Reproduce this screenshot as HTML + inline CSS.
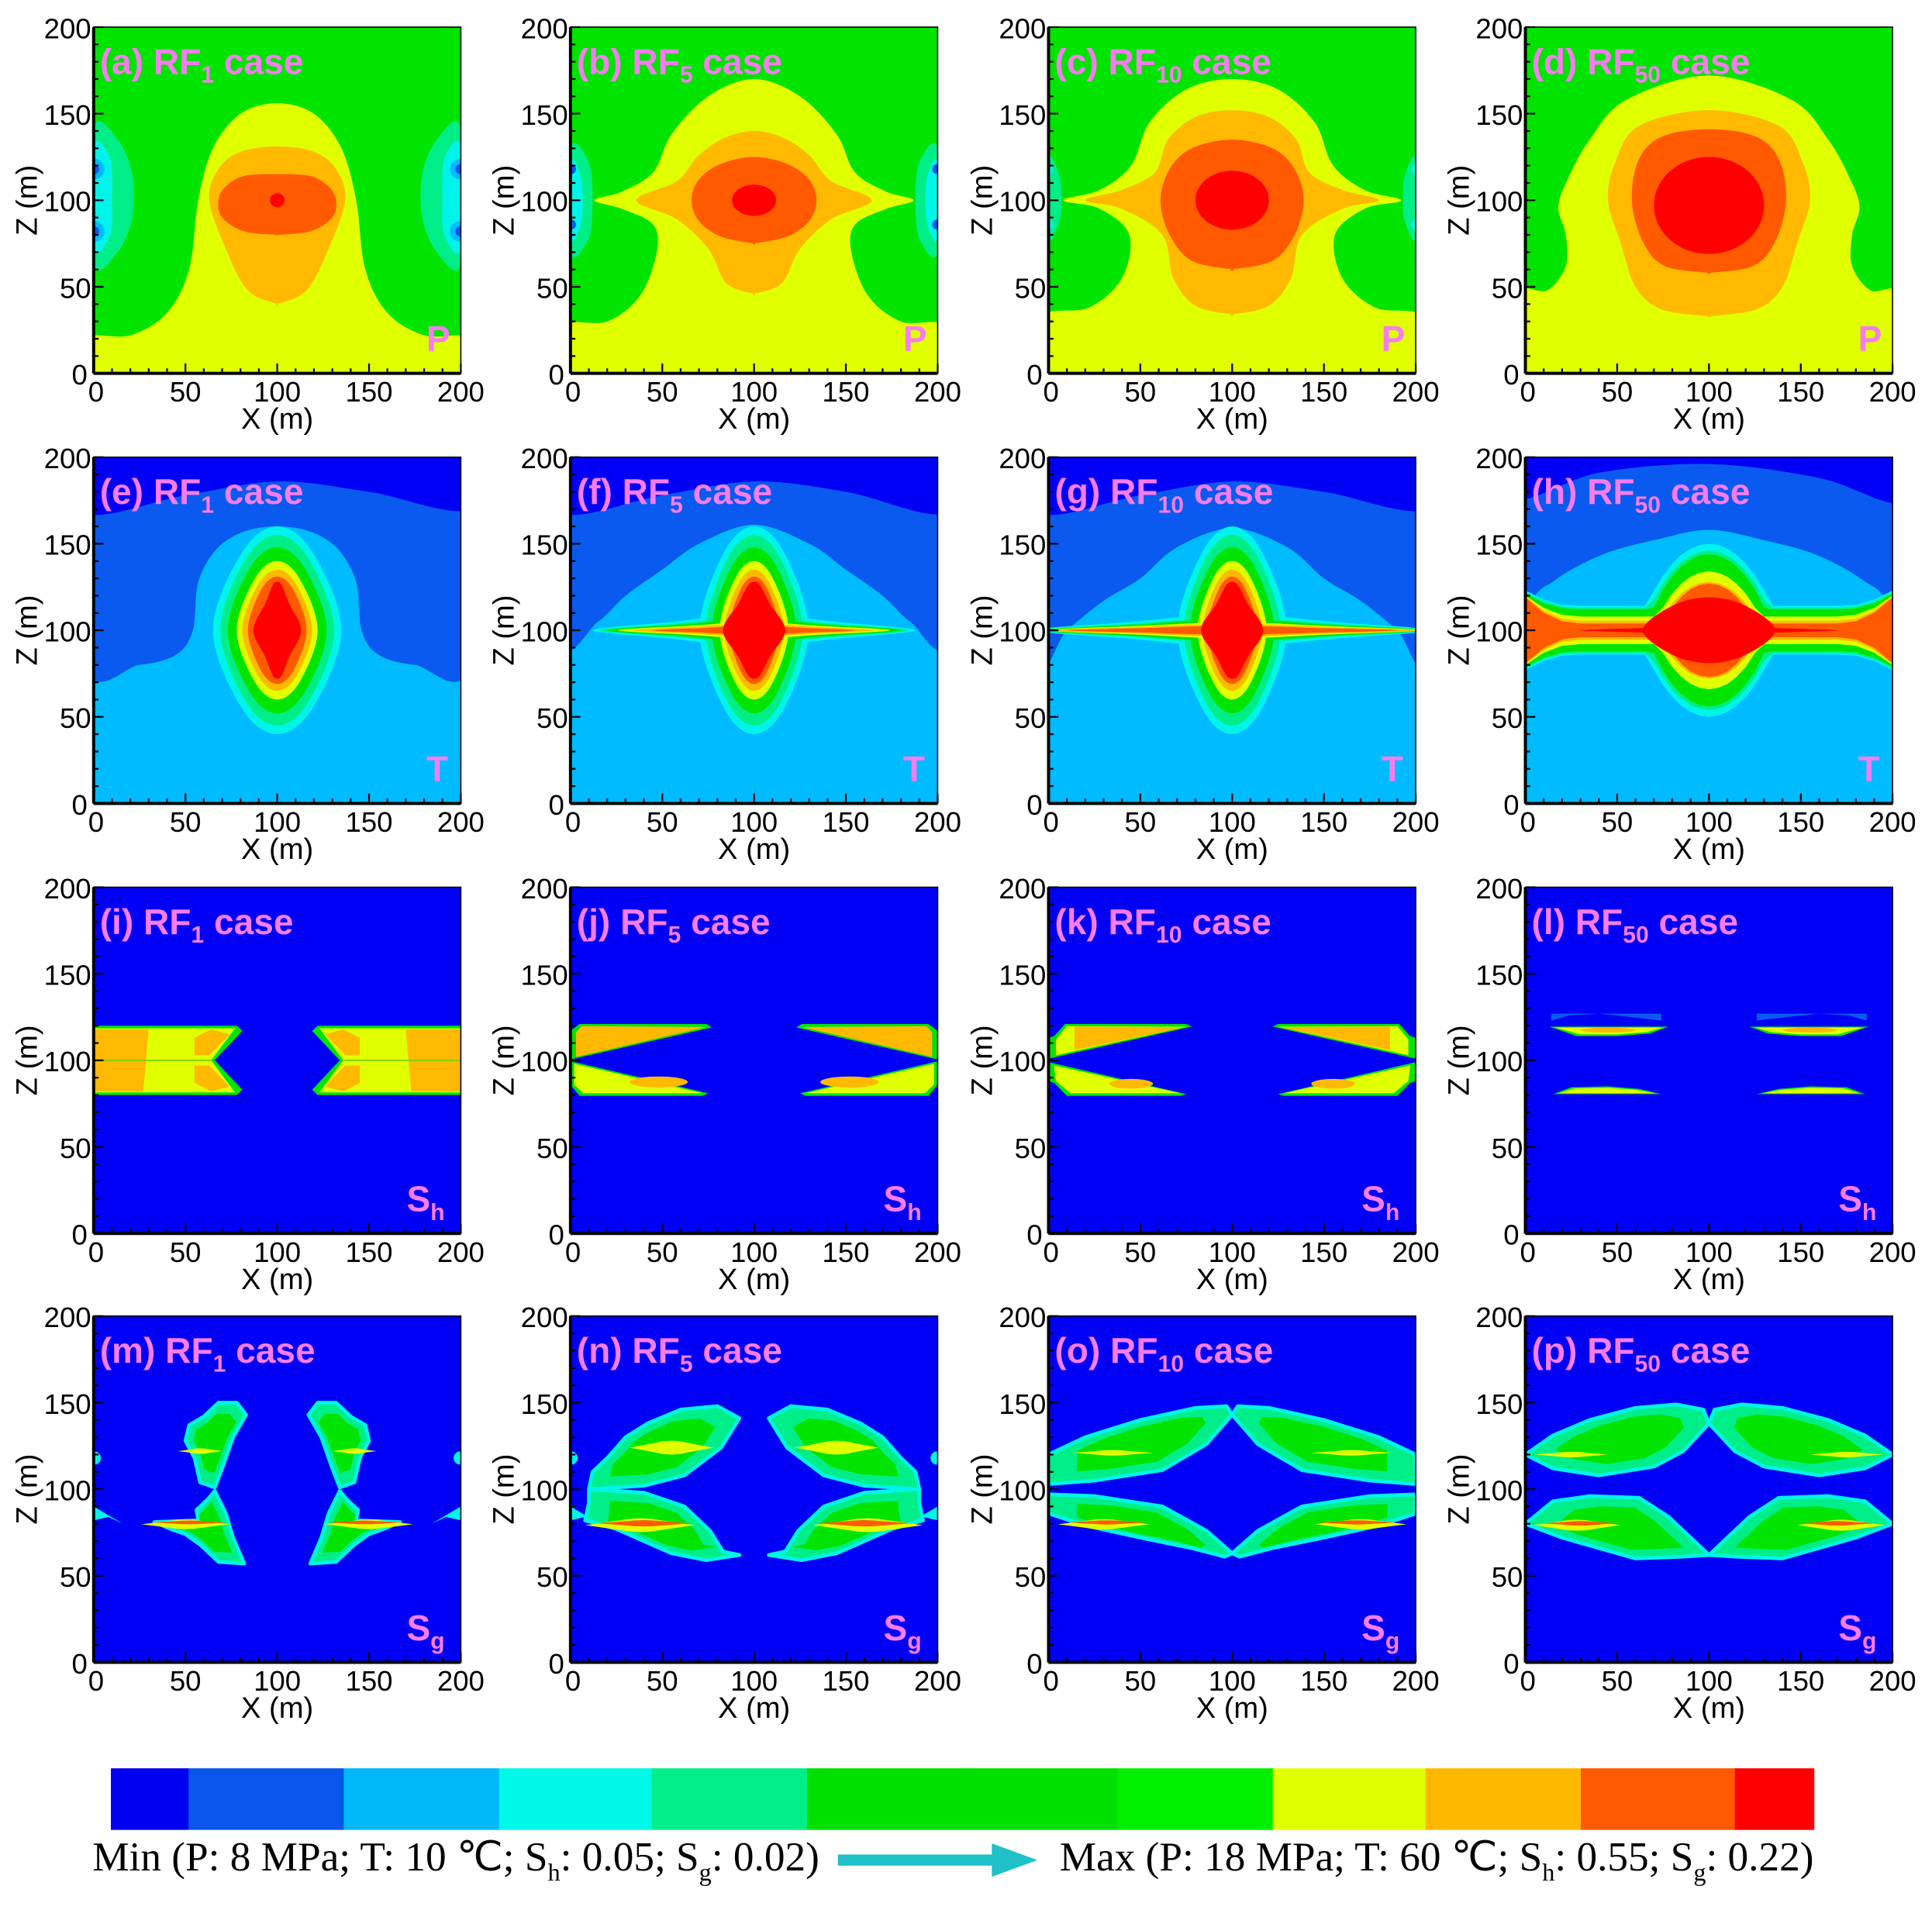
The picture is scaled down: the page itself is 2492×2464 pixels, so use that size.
<!DOCTYPE html>
<html><head><meta charset="utf-8">
<style>
html,body{margin:0;padding:0;background:#fff;}
svg{display:block;}
text{font-family:"Liberation Sans",Arial,sans-serif;}
.serif{font-family:"Liberation Serif","Times New Roman",serif;}
</style></head>
<body>
<svg id="fig" xmlns="http://www.w3.org/2000/svg" width="2492" height="2464" viewBox="0 0 1568 1550" preserveAspectRatio="none">
<rect x="0" y="0" width="1568" height="1550" fill="#ffffff"/>
</svg>
<script>
// ---- data arrays ----
const panelLetters = ['a','b','c','d','e','f','g','h','i','j','k','l','m','n','o','p'];
const rfCases = ['1','5','10','50'];
const variables = ['P','T','S_h','S_g'];
const xTicks = [0,50,100,150,200];
const zTicks = [0,50,100,150,200];
const xTickLabels = ['0','50','100','150','200'];
const zTickLabels = ['0','50','100','150','200'];
const colorbarColors = ['#0000f0','#0a55ec','#00b8fa','#00f8e8','#00ee8a','#00e000','#00e000','#00f000','#e0ff00','#ffb800','#ff5a00','#ff0000'];

const B0='#0000f5',B1='#0a5af0',B2='#00bbff',C3='#00f4ea',C4='#00ee88',G='#00e400',Y='#e0ff00',O='#ffb900',DO='#ff5a00',R='#ff0000';

const colL=[76,463,851,1238], rowT=[22,371,720,1068], W=298, H=281;
const svg=document.getElementById('fig');
const NS='http://www.w3.org/2000/svg';
function mk(tag,attrs,parent){const e=document.createElementNS(NS,tag);for(const k in attrs)e.setAttribute(k,attrs[k]);(parent||svg).appendChild(e);return e;}

function mir(half){return half.concat(half.slice(0,-1).reverse().map(p=>[200-p[0],p[1]]));}
function flipX(pts){return pts.map(p=>[200-p[0],p[1]]);}
function ell(cx,cz,rx,rz,n){n=n||36;const a=[];for(let i=0;i<n;i++){const t=i/n*2*Math.PI;a.push([cx+rx*Math.cos(t),cz+rz*Math.sin(t)]);}return a;}
function lens(cx,cz,hw,hh){return [[cx-hw,cz],[cx-hw*0.55,cz+hh*0.75],[cx,cz+hh],[cx+hw*0.55,cz+hh*0.75],[cx+hw,cz],[cx+hw*0.55,cz-hh*0.75],[cx,cz-hh],[cx-hw*0.55,cz-hh*0.75]];}
function sharpLens(cx,cz,hw,hh){return [[cx-hw,cz],[cx-hw*0.5,cz+hh*0.55],[cx-hw*0.2,cz+hh*0.92],[cx,cz+hh],[cx+hw*0.2,cz+hh*0.92],[cx+hw*0.5,cz+hh*0.55],[cx+hw,cz],[cx+hw*0.5,cz-hh*0.55],[cx+hw*0.2,cz-hh*0.92],[cx,cz-hh],[cx-hw*0.2,cz-hh*0.92],[cx-hw*0.5,cz-hh*0.55]];}
function shrink(pts,f){let cx=0,cz=0;pts.forEach(p=>{cx+=p[0];cz+=p[1];});cx/=pts.length;cz/=pts.length;return pts.map(p=>[cx+(p[0]-cx)*f,cz+(p[1]-cz)*f]);}

function panelDraw(pi){
  const col=pi%4,row=Math.floor(pi/4);
  const L=colL[col],T=rowT[row];
  const X=x=>L+x*W/200, Z=z=>T+H-z*H/200;
  const g=mk('g',{'clip-path':'url(#clip'+pi+')'});
  
  
  const defs=mk('defs',{});
  const cp=mk('clipPath',{id:'clip'+pi},defs);mk('rect',{x:L,y:T,width:W,height:H},cp);
  function smoothPath(pts){const P=pts.map(p=>[X(p[0]),Z(p[1])]);const n=P.length;let d='M'+P[0][0].toFixed(1)+','+P[0][1].toFixed(1);
    for(let i=0;i<n;i++){const p0=P[(i-1+n)%n],p1=P[i],p2=P[(i+1)%n],p3=P[(i+2)%n];
      const c1=[p1[0]+(p2[0]-p0[0])/6,p1[1]+(p2[1]-p0[1])/6],c2=[p2[0]-(p3[0]-p1[0])/6,p2[1]-(p3[1]-p1[1])/6];
      d+='C'+c1[0].toFixed(1)+','+c1[1].toFixed(1)+' '+c2[0].toFixed(1)+','+c2[1].toFixed(1)+' '+p2[0].toFixed(1)+','+p2[1].toFixed(1);}
    return d+'Z';}
  function sm(pts,fill,name){const e=mk('path',{d:smoothPath(pts),fill:fill},g);return e;}
  function pg(pts,fill,name,stroke,sw){const e=mk('polygon',{points:pts.map(p=>X(p[0]).toFixed(1)+','+Z(p[1]).toFixed(1)).join(' '),fill:fill},g);
    if(stroke){e.setAttribute('stroke',stroke);e.setAttribute('stroke-width',sw||2);e.setAttribute('stroke-linejoin','round');}
    return e;}
  function both(pts,fill,name,stroke,sw){pg(pts,fill,name,stroke,sw);pg(flipX(pts),fill,name,stroke,sw);}
  function bg(c){const e=mk('rect',{x:L,y:T,width:W,height:H,fill:c},g);}

  if(row===0){
    bg(G);
    if(col===0){
      [[0],[200]].forEach(([ex])=>{const s=ex?-1:1;
        sm([[ex,64],[ex+s*13,70],[ex+s*21,90],[ex+s*21,115],[ex+s*13,135],[ex,141]],C4,'side-lobe');
        sm([[ex,72],[ex+s*9,80],[ex+s*10,100],[ex+s*9,124],[ex,131]],C3,'side-lobe');
        sm(ell(ex,118,6,6,16),B2,'side-spot');sm(ell(ex,82,6,6,16),B2,'side-spot');
        sm(ell(ex,118,3,3,12),B1,'side-spot');sm(ell(ex,82,3,3,12),B1,'side-spot');});
      sm(mir([[-5,-5],[-5,20],[20,22],[40,35],[52,60],[57,100],[65,130],[80,150],[100,156]]),Y,'yellow-zone');
      sm(mir([[100,40],[84,48],[72,72],[63,100],[68,118],[80,128],[100,131]]),O,'orange-zone');
      sm(mir([[100,80],[82,82],[70,90],[68,100],[72,108],[82,114],[100,115]]),DO,'dark-orange-zone');
      sm(ell(100,100,4,4,16),R,'red-core');
    } else if(col===1){
      [0,200].forEach(ex=>{const s=ex?-1:1;
        sm([[ex,70],[ex+s*10,78],[ex+s*12,100],[ex+s*10,122],[ex,130]],C4,'side-lobe');
        sm([[ex,78],[ex+s*6,88],[ex+s*6,112],[ex,122]],C3,'side-lobe');
        sm(ell(ex,118,3,3,12),B1,'side-spot');sm(ell(ex,86,3,3,12),B1,'side-spot');});
      sm(mir([[-5,-5],[-5,27],[20,30],[38,45],[47,70],[45,86],[28,95],[13,100],[28,105],[45,116],[55,138],[75,160],[100,170]]),Y,'yellow-zone');
      sm(mir([[100,46],[85,52],[75,72],[58,89],[36,100],[58,111],[70,126],[84,136],[100,140]]),O,'orange-zone');
      sm(mir([[100,75],[82,79],[70,88],[66,100],[70,112],[82,121],[100,125]]),DO,'dark-orange-zone');
      sm(ell(100,100,12,9,24),R,'red-core');
    } else if(col===2){
      [0,200].forEach(ex=>{const s=ex?-1:1;
        sm([[ex,78],[ex+s*6,88],[ex+s*7,100],[ex+s*6,114],[ex,124]],C4,'side-lobe');
        sm(ell(ex,118,2.5,3,12),C3,'side-spot');sm(ell(ex,86,2.5,3,12),C3,'side-spot');});
      sm(mir([[-5,-5],[-5,32],[22,38],[40,55],[44,80],[28,95],[8,100],[28,106],[45,120],[55,145],[75,164],[100,170]]),Y,'yellow-zone');
      sm(mir([[100,34],[80,39],[68,55],[62,80],[40,95],[20,100],[40,106],[58,116],[65,135],[80,148],[100,152]]),O,'orange-zone');
      sm(mir([[100,60],[78,65],[66,80],[61,100],[66,118],[78,130],[100,135]]),DO,'dark-orange-zone');
      sm(ell(100,100,20,17,28),R,'red-core');
    } else {
      sm(mir([[-5,-5],[-5,45],[12,48],[22,62],[22,80],[18,96],[23,112],[35,135],[55,158],[100,172]]),Y,'yellow-zone');
      sm(mir([[100,33],[74,37],[60,50],[52,75],[45,100],[49,122],[62,143],[100,152]]),O,'orange-zone');
      sm(mir([[100,58],[76,62],[64,76],[58,100],[62,124],[75,137],[100,141]]),DO,'dark-orange-zone');
      sm(ell(100,97,30,28,32),R,'red-core');
    }
  } else if(row===1){
    bg(B2);
    const chains=[
      [[-5,80],[25,80],[45,86],[54,100],[57,128],[67,147],[82,157],[100,160]],
      [[-5,95],[15,105],[30,120],[50,135],[70,150],[100,161]],
      [[-5,85],[10,100],[30,117],[50,130],[70,148],[100,159]],
      [[-5,120],[10,125],[25,135],[45,145],[70,152],[100,158]]];
    const top=[[[-5,168],[50,178],[100,186],[150,180],[205,170]],[[-5,168],[50,178],[100,186],[150,180],[205,168]],[[-5,168],[50,178],[100,186],[150,180],[205,170]],[[-5,176],[40,191],[100,196],[160,188],[205,174]]][col];
    sm(mir(chains[col]).concat([[210,210],[-10,210]]),B1,'medium-blue-zone');
    sm(top.concat([[210,210],[-10,210]]),B0,'dark-blue-zone');
    if(col<3){
      const hwv=[1,0.85,0.85][col];
      const layers=[[C3,35,60],[C4,31,55],[G,27,48],[Y,22,40],[O,19,35],[DO,16,31]];
      const hor=[null,[[C3,88,9],[C4,84,7],[G,80,6],[Y,74,4.5],[O,66,3.5],[DO,55,2.5]],[[C3,108,9],[C4,106,7],[G,104,6],[Y,102,4.5],[O,100,3.5],[DO,90,2.5]]][col];
      layers.forEach((ly,i)=>{
        sm(lens(100,100,ly[1]*hwv,ly[2]),ly[0],'temperature-layer');
        if(hor){const h=hor[i];sm(sharpLens(100,100,h[1],h[2]),h[0],'temperature-wing');}
      });
      sm(sharpLens(100,100,col===0?13:17,28),R,'red-core');
    } else {
      const lv=[[C3,23,14,50,38],[C4,22,13,46,36],[G,21,12,44,34],[Y,20,8,34,30],[O,19.5,5.5,28,28],[DO,19,4,27,26]];
      const xs=[0,10,20,30,40,50,60,65,70,75,80,85,90,95,100];
      lv.forEach(l=>{const [c,e,m,p,w]=l;
        const f=x=>{const t=Math.max(0,1-x/28);const base=m+(e-m)*t*t;const d=Math.abs(x-100)/w;const hump=d<1?p*Math.pow(1-d*d,0.8):0;return Math.max(base,hump);};
        const up=xs.map(x=>[x,100+f(x)]);
        const full=[[-3,100+f(0)]].concat(mir(up)).concat([[203,100+f(0)],[203,100-f(0)]]).concat(mir(up).reverse().map(p=>[p[0],200-p[1]])).concat([[-3,100-f(0)]]);
        pg(full,c,'temperature-band');});
      sm(sharpLens(100,100,70,2.5),R,'red-streak');
      sm(lens(100,100,36,19),R,'red-core');
    }
  } else if(row===2){
    bg(B0);
    if(col===0){
      both([[0,80],[78,80],[81,83],[66,100],[81,117],[78,120],[0,120]],G,'hydrate-block');
      both([[0,81.5],[77,81.5],[64,100],[77,118.5],[0,118.5]],Y,'hydrate-block');
      both([[0,82],[27,82],[30,118],[0,118]],O,'hydrate-high');
      both([[55,103],[63,103],[74,115],[64,118],[55,113]],O,'hydrate-high');
      both([[55,97],[63,97],[74,85],[64,82],[55,87]],O,'hydrate-high');
      both([[0,99.6],[64,99.6],[64,100.4],[0,100.4]],'#7fd000','hydrate-line');
    } else if(col===1){
      both([[0,100.5],[77,119],[74,121],[5,121],[0,117]],G,'hydrate-upper');
      both([[3,102],[74,119.3],[6,119.8],[3,116]],O,'hydrate-upper-core');
      both([[0,99.5],[75,81],[72,79.5],[5,79.5],[0,86]],G,'hydrate-lower');
      both([[2,98],[72,81],[7,81],[2,86]],Y,'hydrate-lower-core');
      both(ell(48,87.5,16,3.2,20),O,'hydrate-high');
    } else if(col===2){
      both([[0,101],[78,119.5],[75,121],[9,121],[3,114],[0,113]],G,'hydrate-upper');
      both([[4,103],[75,119.4],[10,119.8],[4,112]],Y,'hydrate-upper-core');
      both([[14,106],[74,119.2],[14,119.6]],O,'hydrate-high');
      both([[0,99],[75,80.5],[72,79.5],[10,79.5],[3,87],[0,88]],G,'hydrate-lower');
      both([[3,97],[72,81],[12,81],[4,88]],Y,'hydrate-lower-core');
      both(ell(45,86.5,12,2.8,20),O,'hydrate-high');
    } else {
      both([[14,123],[24,126],[40,127],[58,125],[74,123],[74,127],[14,127]],B1,'hydrate-trace');
      both([[13,119.5],[78,119.5],[68,115.5],[50,114],[28,114]],G,'hydrate-upper');
      both([[16,119],[75,119],[66,116.3],[50,115],[30,115]],Y,'hydrate-upper-core');
      both(ell(45,117.5,15,1.4,20),O,'hydrate-high');
      both([[15,80.5],[74,80.5],[62,83.5],[45,85],[25,84.5]],G,'hydrate-lower');
      both([[18,81],[71,81],[60,83],[45,84.2],[27,83.8]],Y,'hydrate-lower-core');
    }
  } else {
    bg(B0);
    const wings=[
      {u:[[50,128],[52,137],[60,142],[68,150],[78,150],[83,143],[76,130],[70,112],[66,101],[58,104],[55,118]],
       l:[[66,99],[62,94],[56,88],[57,82],[33,81],[42,77],[50,74],[58,68],[68,58],[82,57],[76,72],[72,86]],
       yl:[[58,122,12,1.6]],rl:[[50,80.5,24,1.8]],edge:true},
      {u:[[10,100],[12,110],[20,118],[30,130],[42,138],[60,146],[80,148],[92,141],[82,124],[62,108],[40,102]],
       l:[[10,100],[40,98],[62,90],[76,76],[83,64],[92,62],[74,59],[55,63],[40,70],[25,77],[8,82],[10,92]],
       yl:[[55,124,23,4]],rl:[[38,80,30,3]],edge:true},
      {u:[[0,103],[0,120],[20,130],[50,140],[80,147],[97,148],[100,143],[86,126],[62,111],[25,105]],
       l:[[0,97],[0,86],[20,79],[50,72],[78,66],[96,61],[100,63],[86,76],[62,90],[25,96]],
       yl:[[35,121,22,1.6]],rl:[[30,80.5,25,2]],edge:false},
      {u:[[0,120],[15,131],[35,140],[60,147],[82,149],[97,146],[100,138],[86,122],[70,113],[40,108],[15,112]],
       l:[[0,80],[15,93],[35,96],[62,95],[78,84],[90,72],[100,62],[85,61],[60,60],[40,66],[20,72]],
       yl:[[25,120,20,1.6]],rl:[[28,80,24,2.2]],edge:false}][col];
    [wings.u,wings.l].forEach(p=>{both(p,C4,'gas-wing',C3,3);both(shrink(p,0.7),G,'gas-core');});
    wings.yl.forEach(l=>both(sharpLens(l[0],l[1],l[2],l[3]),Y,'gas-high'));
    wings.rl.forEach(l=>{both(sharpLens(l[0],l[1]-0.8,l[2],l[3]+1),Y,'gas-high');both(sharpLens(l[0]+2,l[1]+0.3,l[2]*0.85,l[3]*0.6),DO,'gas-peak');});
    if(wings.edge){both([[0,82],[8,84],[16,80],[0,90]],C3,'edge-gas');both(ell(0,118,4,4,12),C3,'edge-gas');}
  }

  const fr=mk('rect',{x:L,y:T,width:W,height:H,fill:'none',stroke:'#000','stroke-width':1});
  
  const tk=mk('g',{stroke:'#000','stroke-width':1.4});
  
  for(let v=0;v<=200;v+=10){const major=v%50===0;const len=major?8:4;
    mk('line',{x1:X(v),y1:T+H,x2:X(v),y2:T+H-len},tk);
    mk('line',{x1:L,y1:Z(v),x2:L+len,y2:Z(v)},tk);}
  mk('line',{x1:L,y1:T,x2:L,y2:T+H,'stroke-width':2.5},tk);
  mk('line',{x1:L,y1:T+H,x2:L+W,y2:T+H,'stroke-width':2.5},tk);
  xTicks.forEach((v,i)=>{const t=mk('text',{x:X(v)+(i===0?2:0),y:T+H+23,'font-size':23,'text-anchor':'middle',fill:'#000'});t.textContent=xTickLabels[i];
    });
  zTicks.forEach((v,i)=>{const t=mk('text',{x:L-(i===0?5:2),y:Z(v)+9,'font-size':23,'text-anchor':'end',fill:'#000'});t.textContent=zTickLabels[i];
    });
  const xt=mk('text',{x:X(100),y:T+H+45,'font-size':24,'text-anchor':'middle',fill:'#000'});xt.textContent='X (m)';
  
  const zt=mk('text',{x:0,y:0,'font-size':24,'text-anchor':'middle',fill:'#000',transform:'translate('+(L-46)+','+Z(100)+') rotate(-90)'});zt.textContent='Z (m)';
  
  const lb=mk('text',{x:L+5,y:T+38,'font-size':29,'font-weight':'bold',fill:'#f77cf0'});
  
  const t1=mk('tspan',{},lb);t1.textContent='('+panelLetters[pi]+') RF';
  const t2=mk('tspan',{'font-size':19,dy:7},lb);t2.textContent=rfCases[col];
  const t3=mk('tspan',{dy:-7,'font-size':29},lb);t3.textContent=' case';
  const vv=variables[row].split('_');
  const vl=mk('text',{x:L+W-(vv[1]?44:28),y:T+H-18,'font-size':29,'font-weight':'bold',fill:'#f77cf0'});
  
  const v1=mk('tspan',{},vl);v1.textContent=vv[0];
  if(vv[1]){const v2=mk('tspan',{'font-size':19,dy:7},vl);v2.textContent=vv[1];}
}
for(let i=0;i<16;i++)panelDraw(i);

const cb=mk('g',{});
const cbEdges=[90,153,279,405,529,655,781,907,1033,1157,1283,1408,1472];
colorbarColors.forEach((c,i)=>{const r=mk('rect',{x:cbEdges[i],y:1435,width:cbEdges[i+1]-cbEdges[i]+0.5,height:50,fill:c},cb);
  });
function legendText(x,len,parts,name){
  const t=mk('text',{x:x,y:1518,'font-size':33,fill:'#000',class:'serif',textLength:len,lengthAdjust:'spacingAndGlyphs'});
  
  parts.forEach(p=>{const s=mk('tspan',p[1]>0?{'font-size':20,dy:p[1]}:(p[1]<0?{'font-size':33,dy:p[1]}:{'font-size':33}),t);s.textContent=p[0];});
}
legendText(75,590,[['Min (P: 8 MPa; T: 10 ℃; S',0],['h',8],[': 0.05; S',-8],['g',8],[': 0.02)',-8]],'colorbar-min-label');
legendText(860,612,[['Max (P: 18 MPa; T: 60 ℃; S',0],['h',8],[': 0.55; S',-8],['g',8],[': 0.22)',-8]],'colorbar-max-label');
const ar=mk('g',{});
mk('rect',{x:680,y:1505,width:130,height:9,fill:'#20c0c8'},ar);
mk('polygon',{points:'805,1496 842,1509.5 805,1523',fill:'#20c0c8'},ar);
</script>
</body></html>
